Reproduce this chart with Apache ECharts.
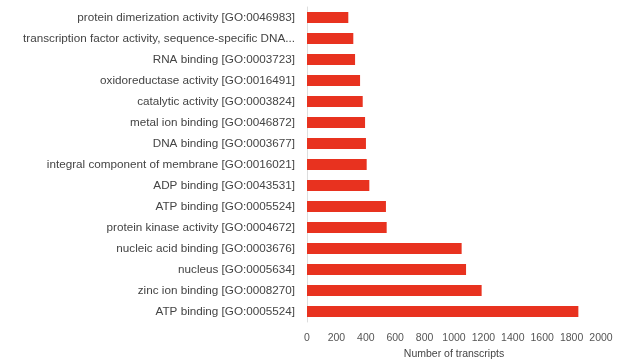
<!DOCTYPE html>
<html>
<head>
<meta charset="utf-8">
<script src="https://cdn.jsdelivr.net/npm/echarts@6/dist/echarts.min.js"></script>
<style>
  html, body { margin: 0; padding: 0; background: #fff; }
  #chart { width: 626px; height: 360px; }
</style>
</head>
<body>
<div id="chart"></div>
<script>
// GO terms, top to bottom as in the picture
var categories = [
    'protein dimerization activity [GO:0046983]',
    'transcription factor activity, sequence-specific DNA...',
    'RNA binding [GO:0003723]',
    'oxidoreductase activity [GO:0016491]',
    'catalytic activity [GO:0003824]',
    'metal ion binding [GO:0046872]',
    'DNA binding [GO:0003677]',
    'integral component of membrane [GO:0016021]',
    'ADP binding [GO:0043531]',
    'ATP binding [GO:0005524]',
    'protein kinase activity [GO:0004672]',
    'nucleic acid binding [GO:0003676]',
    'nucleus [GO:0005634]',
    'zinc ion binding [GO:0008270]',
    'ATP binding [GO:0005524]'
];
var transcripts = [281, 315, 327, 361, 379, 395, 401, 406, 424, 537, 542, 1052, 1082, 1188, 1846];
var xTicks = [0, 200, 400, 600, 800, 1000, 1200, 1400, 1600, 1800, 2000];

var myChart = echarts.init(document.getElementById('chart'));
var option = {
    backgroundColor: '#fff',
    animation: false,
    grid: {
        left: 307,
        right: 25,
        top: 7,
        bottom: 38,
        outerBoundsMode: 'none' // keep the plot box where it is
    },
    xAxis: {
        type: 'value',
        min: xTicks[0],
        max: xTicks[xTicks.length - 1],
        interval: 200,
        name: 'Number of transcripts',
        nameLocation: 'middle',
        nameGap: 23,
        nameTextStyle: {color: '#444', fontSize: 10.5, fontFamily: 'Liberation Sans'},
        axisLine: {show: false},
        axisTick: {show: false},
        splitLine: {show: false},
        axisLabel: {
            color: '#555', fontSize: 10.5, fontFamily: 'Liberation Sans', margin: 11,
            formatter: function (v) { return String(v); }
        }
    },
    yAxis: {
        type: 'category',
        inverse: true,
        data: categories,
        axisLine: {show: true, lineStyle: {color: '#ddd'}},
        axisTick: {show: false},
        axisLabel: {color: '#444', fontSize: 11.7, fontFamily: 'Liberation Sans', margin: 12}
    },
    series: [{
        type: 'bar',
        data: transcripts,
        barWidth: 11,
        itemStyle: {color: '#e8321f'}
    }]
};
myChart.setOption(option);
</script>
</body>
</html>
